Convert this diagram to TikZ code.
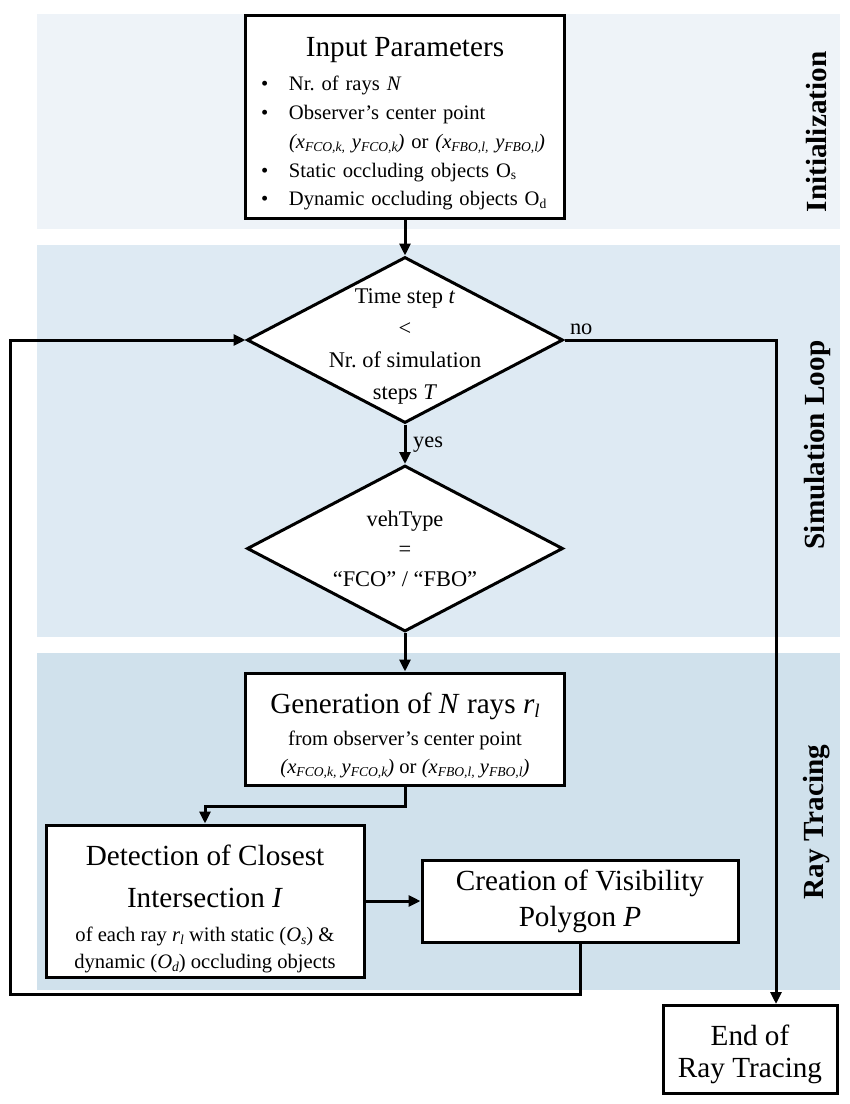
\documentclass[tikz,border=0pt]{standalone}
\usepackage{fontspec}
\usepackage{graphicx}
\setmainfont{Liberation Serif}
\usetikzlibrary{shapes.geometric,arrows.meta}
\definecolor{bandinit}{HTML}{EEF3F8}
\definecolor{bandsim}{HTML}{DEEAF3}
\definecolor{bandray}{HTML}{D0E1EC}
\newcommand\fbig{\fontsize{14.6}{18}\selectfont}
\newcommand\fmid{\fontsize{11.2}{16}\selectfont}
\newcommand\fsmall{\fontsize{10.3}{13.5}\selectfont}
\newcommand\sbs[1]{\raisebox{-0.3ex}{\scalebox{0.66}{#1}}}
\newcommand\bul{\makebox[16pt][l]{\hspace{2pt}\textbullet}}
\newcommand\obspos{\mbox{\textit{(x\sbs{FCO,k,} y\sbs{FCO,k})} or \textit{(x\sbs{FBO,l,} y\sbs{FBO,l})}}}
\begin{document}
\frenchspacing
\begin{tikzpicture}[x=0.5pt,y=-0.5pt,
    box/.style={draw,line width=1.5pt,fill=white,align=center,inner sep=2pt},
    decision/.style={draw,diamond,line width=1.5pt,fill=white,minimum width=158pt,minimum height=83pt,inner sep=0pt},
    flow/.style={line width=1.5pt,-{Triangle[length=6pt,width=5.5pt]}},
    side/.style={rotate=90,font=\fbig\bfseries}]
    \useasboundingbox (0,0) rectangle (850,1104);
    \fill[bandinit] (37,14) rectangle (840,229);
    \fill[bandsim] (37,245) rectangle (840,637);
    \fill[bandray] (37,653) rectangle (840,990);
    \node[side] (initlbl) at (817,132) {Initialization};
    \node[side] (simlbl) at (817,445) {Simulation Loop};
    \node[side] (raylbl) at (817,822) {Ray Tracing};

    \node[box,minimum width=159.5pt,minimum height=101.5pt,text width=148pt,align=left,font={\fontsize{10.3}{14.4}\selectfont}] (inp) at (405,116.5)
        {\makebox[\linewidth]{\rule{0pt}{17pt}\fbig Input Parameters}\\[2.6pt]
         \bul Nr. of rays \textit{N}\\
         \bul Observer’s center point\\
         \hspace*{16pt}\obspos\\
         \bul Static occluding objects O\sbs{s}\\
         \bul Dynamic occluding objects O\sbs{d}};
    \node[decision,label={[align=center,font=\fmid,yshift=-3pt]center:{Time step \textit{t}\\<\\Nr. of simulation\\steps \textit{T}}}] (tstep) at (405,340) {};
    \node[decision,label={[align=center,font=\fmid,yshift=0pt]center:{vehType\\[-1pt]=\\[-1pt]“FCO” / “FBO”}}] (veh) at (405,548.5) {};
    \node[box,minimum width=159.5pt,minimum height=56pt,font=\fsmall] (gen) at (405,729)
        {\rule{0pt}{17pt}\fbig Generation of \textit{N} rays \textit{r\sbs{l}}\\[2.5pt] \fsmall from observer’s center point\\[0.5pt] \obspos};
    \node[box,minimum width=159pt,minimum height=76pt,inner sep=1pt,font=\fsmall] (det) at (205,901)
        {\rule{0pt}{18pt}\fbig Detection of Closest\\[7.5pt] \fbig Intersection \textit{I}\\[3.5pt] \fsmall of each ray \textit{r\sbs{l}} with static (\textit{O\sbs{s}}) \&\\ \fsmall dynamic (\textit{O\sbs{d}}) occluding objects};
    \node[box,minimum width=158pt,minimum height=41pt,font=\fbig] (vis) at (580,901) {Creation of Visibility\\ Polygon \textit{P}};
    \node[box,minimum width=87pt,minimum height=44pt,font={\fontsize{14.6}{16}\selectfont}] (endrt) at (750,1049.5) {\rule{0pt}{15pt}End of\\ Ray Tracing};

    \coordinate (turn) at (776,340);
    \coordinate (back) at (10,994);
    \draw[flow] (inp.south) -- (tstep.north);
    \draw[flow] (tstep.south) -- node[right,font=\fmid] {yes} (veh.north);
    \draw[flow] (veh.south) -- (gen.north);
    \draw[flow] (gen.south) -- ++(0,20) -| (det.north);
    \draw[flow] (det.east) -- (vis.west);
    \draw[flow] (vis.south) |- (back) |- (tstep.west);
    \draw[flow] (tstep.east) node[above right,font=\fmid,inner sep=2pt] {no} -- (turn) -- (turn |- endrt.north);
\end{tikzpicture}
\end{document}
